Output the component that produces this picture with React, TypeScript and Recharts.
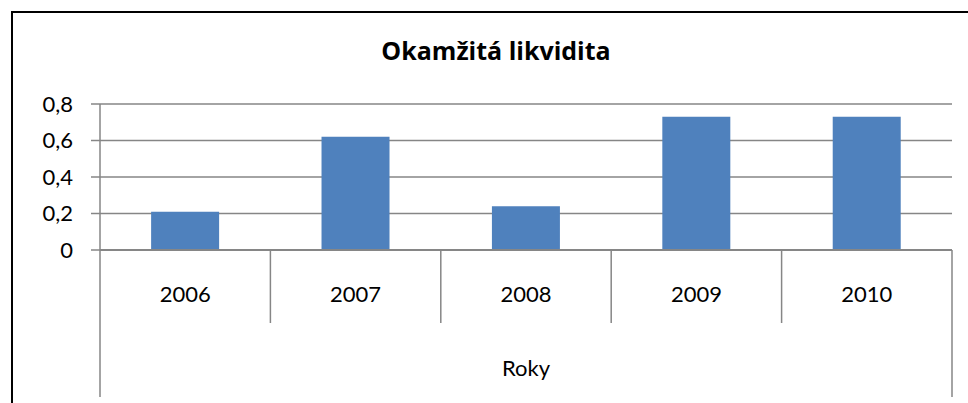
import { BarChart, Bar, XAxis, YAxis, CartesianGrid } from 'recharts'

const years = ['2006', '2007', '2008', '2009', '2010']
const liquidity = [0.21, 0.62, 0.24, 0.73, 0.73]
const yTicks = [0, 0.2, 0.4, 0.6, 0.8]

const data = years.map((y, i) => ({ year: y, value: liquidity[i] }))

const FONT = 'Lato, "Open Sans", sans-serif'
const GRID = '#868686'

const fmtY = (v: number) => (v === 0 ? '0' : v.toFixed(1).replace('.', ','))

// two-level category axis: year label + divider lines, outer lines run down to the "Roky" row
function YearTick(props: any) {
  const { x, y, payload, index } = props
  const half = payload.offset ?? 0
  const last = index === years.length - 1
  return (
    <g>
      <line x1={x - half} x2={x - half} y1={y} y2={y + (index === 0 ? 147 : 73)} stroke={GRID} strokeWidth={1.5} />
      {last && <line x1={x + half} x2={x + half} y1={y} y2={y + 147} stroke={GRID} strokeWidth={1.5} />}
      <text x={x} y={y + 52} textAnchor="middle" fontSize={22} fill="#000">{payload.value}</text>
    </g>
  )
}

export default function App() {
  return (
    <div style={{ position: 'absolute', left: 0, top: 0, width: 968, height: 403, background: '#fff', fontFamily: FONT }}>
      <div style={{
        position: 'absolute', left: 11, top: 11, width: 957, height: 392, boxSizing: 'border-box',
        borderTop: '2px solid #000', borderLeft: '2px solid #000',
      }} />
      <div style={{
        position: 'absolute', left: 24, top: 38, width: 944, textAlign: 'center',
        fontFamily: '"Open Sans", sans-serif', fontSize: 25, lineHeight: '25px', fontWeight: 700, color: '#000',
      }}>
        Okamžitá likvidita
      </div>
      <div style={{ position: 'absolute', left: 0, top: 0 }}>
        <BarChart width={968} height={403} data={data} barCategoryGap="30%"
          margin={{ top: 104, right: 16, left: 0, bottom: 0 }}>
          <CartesianGrid vertical={false} stroke={GRID} strokeWidth={1.5} />
          <XAxis dataKey="year" height={153} axisLine={{ stroke: GRID, strokeWidth: 2 }}
            tickLine={false} tickSize={0} tickMargin={0} interval={0} tick={<YearTick />}
            label={{ value: 'Roky', position: 'insideBottom', offset: 27, fontSize: 22, fill: '#000' }} />
          <YAxis width={100} domain={[0, 0.8]} ticks={yTicks} tickFormatter={fmtY}
            axisLine={{ stroke: GRID, strokeWidth: 1.5 }} tickLine={{ stroke: GRID, strokeWidth: 1.5 }}
            tickSize={9} tickMargin={18} tick={{ fontSize: 22, fill: '#000' }} />
          <Bar dataKey="value" fill="#4f81bd" isAnimationActive={false} />
        </BarChart>
      </div>
    </div>
  )
}
